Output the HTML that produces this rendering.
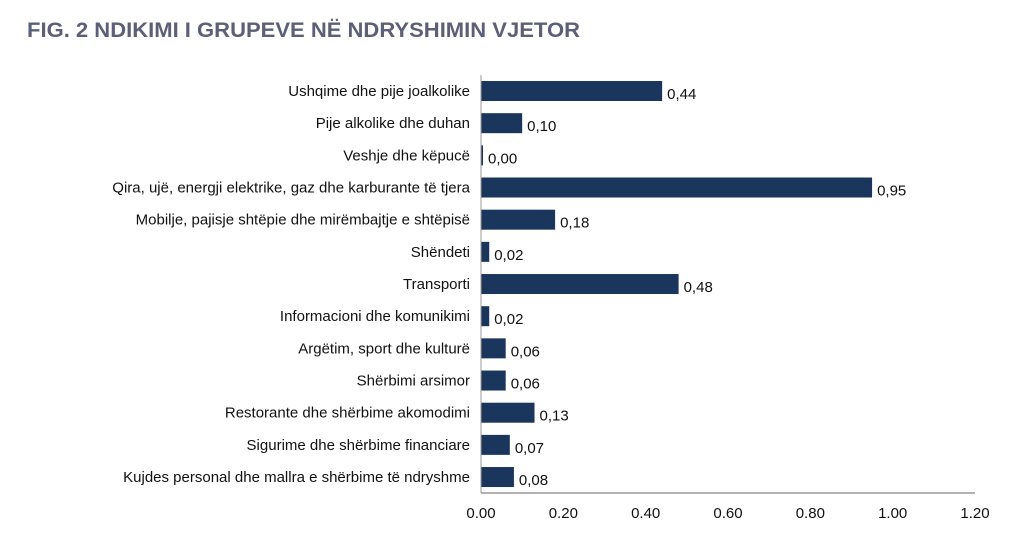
<!DOCTYPE html>
<html><head><meta charset="utf-8"><style>
body{margin:0;background:#fff;}
svg{display:block;font-family:"Liberation Sans",Arial,sans-serif;}
</style></head><body>
<svg id="chart" width="1024" height="535">
<text x="27" y="37" font-size="21" font-weight="bold" fill="#5b6078" textLength="553" lengthAdjust="spacingAndGlyphs">FIG. 2 NDIKIMI I GRUPEVE NË NDRYSHIMIN VJETOR</text>
</svg>
<script>
const categories=["Ushqime dhe pije joalkolike","Pije alkolike dhe duhan","Veshje dhe këpucë","Qira, ujë, energji elektrike, gaz dhe karburante të tjera","Mobilje, pajisje shtëpie dhe mirëmbajtje e shtëpisë","Shëndeti","Transporti","Informacioni dhe komunikimi","Argëtim, sport dhe kulturë","Shërbimi arsimor","Restorante dhe shërbime akomodimi","Sigurime dhe shërbime financiare","Kujdes personal dhe mallra e shërbime të ndryshme"];
const values=[0.44,0.10,0.00,0.95,0.18,0.02,0.48,0.02,0.06,0.06,0.13,0.07,0.08];
const valueLabels=["0,44","0,10","0,00","0,95","0,18","0,02","0,48","0,02","0,06","0,06","0,13","0,07","0,08"];
const ticks=[0,0.2,0.4,0.6,0.8,1.0,1.2];
const tickLabels=["0.00","0.20","0.40","0.60","0.80","1.00","1.20"];
const svg=document.getElementById('chart');
const NS="http://www.w3.org/2000/svg";
const x0=481,x1=975,xmax=1.2;
const xs=v=>x0+(v/xmax)*(x1-x0);
const yTop=91,step=32.17;
const ys=i=>yTop+i*step;
function mk(t,a){const e=document.createElementNS(NS,t);for(const k in a)e.setAttribute(k,a[k]);svg.appendChild(e);return e;}
categories.forEach((c,i)=>{
  const y=ys(i);
  const w=Math.max(xs(values[i])-x0,2);
  const b=mk('rect',{x:x0,y:y-10,width:w,height:20,fill:'#1b365c'});
  
  
  const l=mk('text',{x:470,y:y+5,'font-size':15,'text-anchor':'end',fill:'#111'});
  l.textContent=c;
  
  
  const v=mk('text',{x:x0+w+5,y:y+8,'font-size':15,fill:'#111'});
  v.textContent=valueLabels[i];
  
  
});
const ya=mk('line',{x1:x0,y1:75,x2:x0,y2:493,stroke:'#999','stroke-width':1});


const xa=mk('line',{x1:x0,y1:493,x2:x1,y2:493,stroke:'#999','stroke-width':1.5});


ticks.forEach((t,i)=>{
  const tl=mk('text',{x:xs(t),y:518,'font-size':15,'text-anchor':'middle',fill:'#111'});
  tl.textContent=tickLabels[i];
  
  
});
</script>
</body></html>
